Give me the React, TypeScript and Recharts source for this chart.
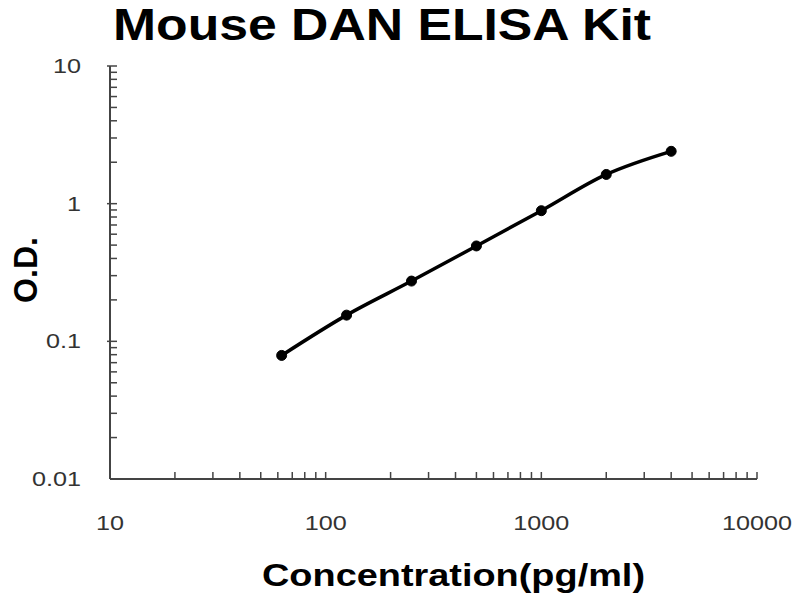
import { ComposedChart, Line, XAxis, YAxis } from "recharts";

// standard curve points
const concentrations = [62.5, 125, 250, 500, 1000, 2000, 4000];
const odValues = [0.079, 0.155, 0.274, 0.493, 0.889, 1.63, 2.4];

const xMajorTicks = [10, 100, 1000, 10000];
const xAllTicks = [
  10, 20, 30, 40, 50, 60, 70, 80, 90,
  100, 200, 300, 400, 500, 600, 700, 800, 900,
  1000, 2000, 3000, 4000, 5000, 6000, 7000, 8000, 9000, 10000,
];
const yMajorTicks = [0.01, 0.1, 1, 10];
const yAllTicks = [
  0.01, 0.02, 0.03, 0.04, 0.05, 0.06, 0.07, 0.08, 0.09,
  0.1, 0.2, 0.3, 0.4, 0.5, 0.6, 0.7, 0.8, 0.9,
  1, 2, 3, 4, 5, 6, 7, 8, 9, 10,
];

const data = concentrations.map((conc, i) => ({ conc, od: odValues[i] }));

const AXIS = "#444";
const LABEL = "#333";
const FONT = "Liberation Sans, Arial, sans-serif";
const X_GAP = 51;
const Y_GAP = 29;
const MARK = 7;

// tick marks point into the plot; only decades get a label
function XTick({ x, y, payload }: any) {
  const major = xMajorTicks.includes(payload.value);
  return (
    <g>
      {payload.value !== 10 && (
        <line x1={x} x2={x} y1={y - X_GAP} y2={y - X_GAP - MARK} stroke={AXIS} strokeWidth={1.5} />
      )}
      {major && (
        <g transform={`translate(${x},${y}) scale(1.2,1)`}>
          <text x={0} y={0} textAnchor="middle" fontSize={21} fill={LABEL} fontFamily={FONT}>
            {payload.value}
          </text>
        </g>
      )}
    </g>
  );
}

function YTick({ x, y, payload }: any) {
  const major = yMajorTicks.includes(payload.value);
  return (
    <g>
      {payload.value !== 0.01 && (
        <line x1={x + Y_GAP - (major ? 3 : 0)} x2={x + Y_GAP + MARK} y1={y} y2={y} stroke={AXIS} strokeWidth={1.5} />
      )}
      {major && (
        <g transform={`translate(${x},${y}) scale(1.2,1)`}>
          <text x={0} y={7} textAnchor="end" fontSize={21} fill={LABEL} fontFamily={FONT}>
            {payload.value}
          </text>
        </g>
      )}
    </g>
  );
}

export default function App() {
  return (
    <div style={{ position: "absolute", left: 0, top: 0, width: 800, height: 600, background: "#fff" }}>
      <ComposedChart width={800} height={600} data={data} margin={{ top: 66, right: 43, left: 0, bottom: 0 }}>
        <XAxis
          dataKey="conc"
          type="number"
          scale="log"
          domain={[10, 10000]}
          allowDataOverflow
          ticks={xAllTicks}
          interval={0}
          height={121}
          tickSize={0}
          tickMargin={X_GAP}
          tickLine={false}
          axisLine={{ stroke: AXIS, strokeWidth: 2 }}
          tick={<XTick />}
        />
        <YAxis
          type="number"
          scale="log"
          domain={[0.01, 10]}
          allowDataOverflow
          ticks={yAllTicks}
          interval={0}
          width={110}
          tickSize={0}
          tickMargin={Y_GAP}
          tickLine={false}
          axisLine={{ stroke: AXIS, strokeWidth: 2 }}
          tick={<YTick />}
        />
        <Line
          type="monotone"
          dataKey="od"
          stroke="#000"
          strokeWidth={3.5}
          dot={{ r: 5, fill: "#000", stroke: "#000", strokeWidth: 1 }}
          isAnimationActive={false}
        />
      </ComposedChart>
      <svg
        width={800}
        height={600}
        style={{ position: "absolute", left: 0, top: 0, pointerEvents: "none" }}
        fontFamily={FONT}
        fontWeight="bold"
      >
        <text x={113} y={40} fontSize={44} textLength={538} lengthAdjust="spacingAndGlyphs" fill="#000">
          Mouse DAN ELISA Kit
        </text>
        <text
          transform="translate(37,270) rotate(-90)"
          textAnchor="middle"
          fontSize={34}
          textLength={66}
          lengthAdjust="spacingAndGlyphs"
          fill="#000"
        >
          O.D.
        </text>
        <text x={262} y={586} fontSize={32} textLength={383} lengthAdjust="spacingAndGlyphs" fill="#000">
          Concentration(pg/ml)
        </text>
      </svg>
    </div>
  );
}
